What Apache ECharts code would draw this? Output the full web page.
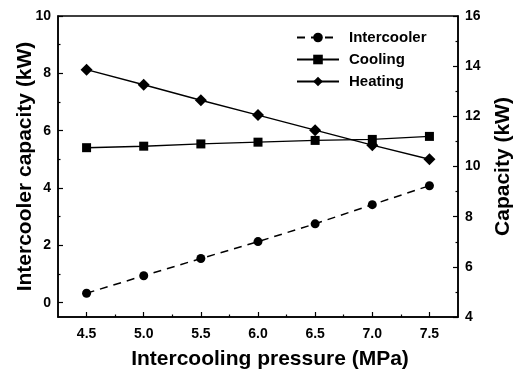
<!DOCTYPE html>
<html>
<head>
  <meta charset="UTF-8">
  <title>intercooling</title>
  <style>
  body { margin: 0; background: #fff; }
  #main { width: 517px; height: 372px; }
  </style>
  <script src="https://cdn.jsdelivr.net/npm/echarts@6/dist/echarts.min.js"></script>
</head>
<body>
  <div id="main"></div>
  <script type="text/javascript">
  var pressure = [4.5, 5.0, 5.5, 6.0, 6.5, 7.0, 7.5];
  var intercooler = [0.33, 0.94, 1.54, 2.13, 2.75, 3.42, 4.08];
  var cooling = [10.75, 10.81, 10.90, 10.97, 11.04, 11.08, 11.20];
  var heating = [13.86, 13.26, 12.64, 12.05, 11.45, 10.85, 10.29];

  var xMajor = [4.5, 5.0, 5.5, 6.0, 6.5, 7.0, 7.5];
  var xMinor = [4.75, 5.25, 5.75, 6.25, 6.75, 7.25];
  var leftMajor = [0, 2, 4, 6, 8, 10];
  var leftMinor = [1, 3, 5, 7, 9];

  function pairs(ys) {
    return pressure.map(function(x, i) { return [x, ys[i]]; });
  }

  var font = 'Liberation Sans, Arial, sans-serif';
  var black = '#000';
  var tickStyle = { color: black, width: 1.2 };
  var box = { left: 58, right: 59, top: 16, bottom: 55, outerBoundsMode: 'none' };

  var myChart = echarts.init(document.getElementById('main'), null, { renderer: 'canvas' });

  var option = {
    animation: false,
    backgroundColor: '#fff',
    grid: [
      Object.assign({ show: true, borderColor: black, borderWidth: 1.5 }, box),
      // second grid, same box, only carries the minor ticks
      Object.assign({ show: false }, box)
    ],
    legend: {
      orient: 'vertical',
      left: 291, top: 25,
      itemWidth: 42, itemHeight: 12, itemGap: 7,
      textStyle: { fontFamily: font, fontWeight: 'bold', fontSize: 15, color: black, padding: [0, 0, 0, 5] },
      data: ['Intercooler', 'Cooling', 'Heating']
    },
    xAxis: [{
      type: 'value', min: 4.25, max: 7.75, gridIndex: 0,
      name: 'Intercooling pressure (MPa)',
      nameLocation: 'middle', nameGap: 32, nameMoveOverlap: false,
      nameTextStyle: { fontFamily: font, fontWeight: 'bold', fontSize: 21, color: black, padding: [0, 0, 0, 24] },
      axisLine: { onZero: false, lineStyle: { color: black, width: 1.5 } },
      axisTick: { inside: true, length: 5, customValues: xMajor, lineStyle: tickStyle },
      axisLabel: {
        customValues: xMajor, margin: 10,
        fontFamily: font, fontWeight: 'bold', fontSize: 14, color: black,
        formatter: function(v) { return v.toFixed(1); }
      },
      splitLine: { show: false }
    }, {
      type: 'value', min: 4.25, max: 7.75, gridIndex: 1, position: 'bottom',
      axisLine: { show: false, onZero: false },
      axisTick: { inside: true, length: 2.5, customValues: xMinor, lineStyle: tickStyle },
      axisLabel: { show: false },
      splitLine: { show: false }
    }],
    yAxis: [{
      type: 'value', min: -0.5, max: 10, gridIndex: 0, position: 'left',
      name: 'Intercooler capacity (kW)',
      nameLocation: 'middle', nameGap: 22, nameRotate: 90, nameMoveOverlap: false,
      nameTextStyle: { fontFamily: font, fontWeight: 'bold', fontSize: 21, color: black },
      axisLine: { show: true, onZero: false, lineStyle: { color: black, width: 1.5 } },
      axisTick: { inside: true, length: 5, customValues: leftMajor, lineStyle: tickStyle },
      axisLabel: { customValues: leftMajor, margin: 7, fontFamily: font, fontWeight: 'bold', fontSize: 14, color: black },
      splitLine: { show: false }
    }, {
      type: 'value', min: 4, max: 16, interval: 2, gridIndex: 0, position: 'right',
      name: 'Capacity (kW)',
      nameLocation: 'middle', nameGap: 35, nameRotate: 90, nameMoveOverlap: false,
      nameTextStyle: { fontFamily: font, fontWeight: 'bold', fontSize: 21, color: black },
      axisLine: { show: true, onZero: false, lineStyle: { color: black, width: 1.5 } },
      axisTick: { inside: true, length: 5, lineStyle: tickStyle },
      minorTick: { show: true, splitNumber: 2, length: 2.5, lineStyle: tickStyle },
      axisLabel: { margin: 7, fontFamily: font, fontWeight: 'bold', fontSize: 14, color: black },
      splitLine: { show: false }
    }, {
      type: 'value', min: -0.5, max: 10, gridIndex: 1, position: 'left',
      axisLine: { show: false, onZero: false },
      axisTick: { inside: true, length: 2.5, customValues: leftMinor, lineStyle: tickStyle },
      axisLabel: { show: false },
      splitLine: { show: false }
    }],
    series: [{
      name: 'Intercooler', type: 'line', xAxisIndex: 0, yAxisIndex: 0,
      data: pairs(intercooler),
      symbol: 'circle', symbolSize: 9,
      itemStyle: { color: black },
      lineStyle: { color: black, width: 1.5, type: [8, 6] }
    }, {
      name: 'Cooling', type: 'line', xAxisIndex: 0, yAxisIndex: 1,
      data: pairs(cooling),
      symbol: 'rect', symbolSize: 9,
      itemStyle: { color: black },
      lineStyle: { color: black, width: 1.4 }
    }, {
      name: 'Heating', type: 'line', xAxisIndex: 0, yAxisIndex: 1,
      data: pairs(heating),
      symbol: 'diamond', symbolSize: 12,
      itemStyle: { color: black },
      lineStyle: { color: black, width: 1.4 }
    }]
  };

  myChart.setOption(option);
  </script>
</body>
</html>
